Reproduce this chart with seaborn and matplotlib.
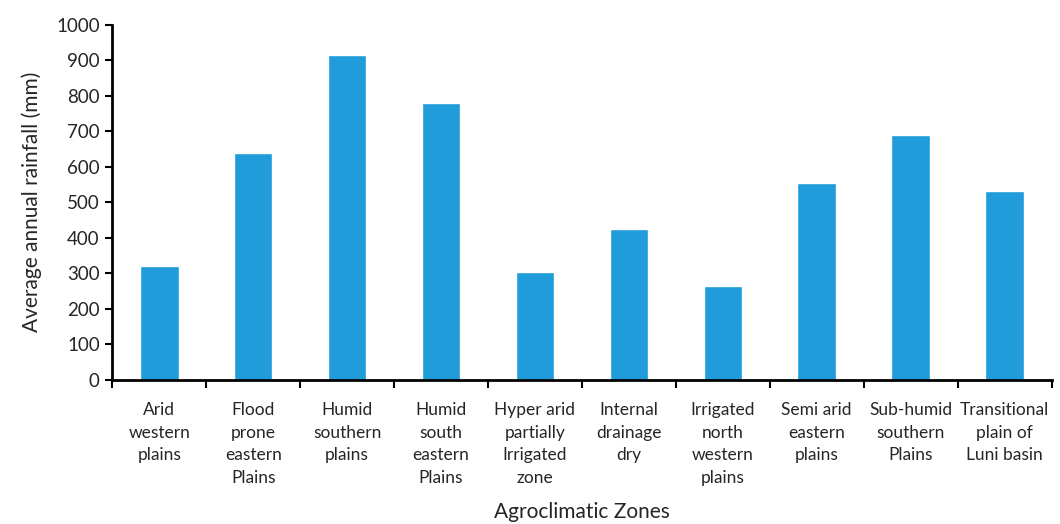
import numpy as np
import pandas as pd
import matplotlib.pyplot as plt
import seaborn as sns

zones = ["Arid\nwestern\nplains", "Flood\nprone\neastern\nPlains", "Humid\nsouthern\nplains",
         "Humid\nsouth\neastern\nPlains", "Hyper arid\npartially\nIrrigated\nzone", "Internal\ndrainage\ndry",
         "Irrigated\nnorth\nwestern\nplains", "Semi arid\neastern\nplains", "Sub-humid\nsouthern\nPlains",
         "Transitional\nplain of\nLuni basin"]
rainfall = [322, 640, 914, 780, 305, 424, 265, 554, 690, 532]

df = pd.DataFrame({"zone": zones, "rain": rainfall})

sns.set_style("white")
plt.rcParams["font.family"] = ["Lato", "DejaVu Sans"]

fig = plt.figure(figsize=(10.6, 5.24), dpi=100)
ax = fig.add_axes([0.106, 0.275, 0.886, 0.678])

sns.barplot(data=df, x="zone", y="rain", color="#1F9CD9", saturation=1, width=0.41, ax=ax)

ax.set_xlim(-0.5, len(zones) - 0.5)
ax.set_ylim(0, 1000)
ax.set_yticks(np.arange(0, 1001, 100))
ax.tick_params(axis="y", labelsize=13.5, length=5, width=1.5, direction="out", left=True, color="black", pad=4)
ax.tick_params(axis="x", which="major", length=0, labelsize=12.5, pad=16)
ax.set_xticks(np.arange(-0.5, len(zones)), minor=True)
ax.tick_params(axis="x", which="minor", length=6, width=1.5, direction="out", bottom=True, color="black")
for t in ax.get_xticklabels():
    t.set_linespacing(1.5)

for s in ["top", "right"]:
    ax.spines[s].set_visible(False)
for s in ["left", "bottom"]:
    ax.spines[s].set_color("black")
    ax.spines[s].set_linewidth(2)

ax.set_xlabel("Agroclimatic Zones", fontsize=15, labelpad=12)
ax.set_ylabel("Average annual rainfall (mm)", fontsize=15, labelpad=10)

fig.savefig("out.png", dpi=100)
